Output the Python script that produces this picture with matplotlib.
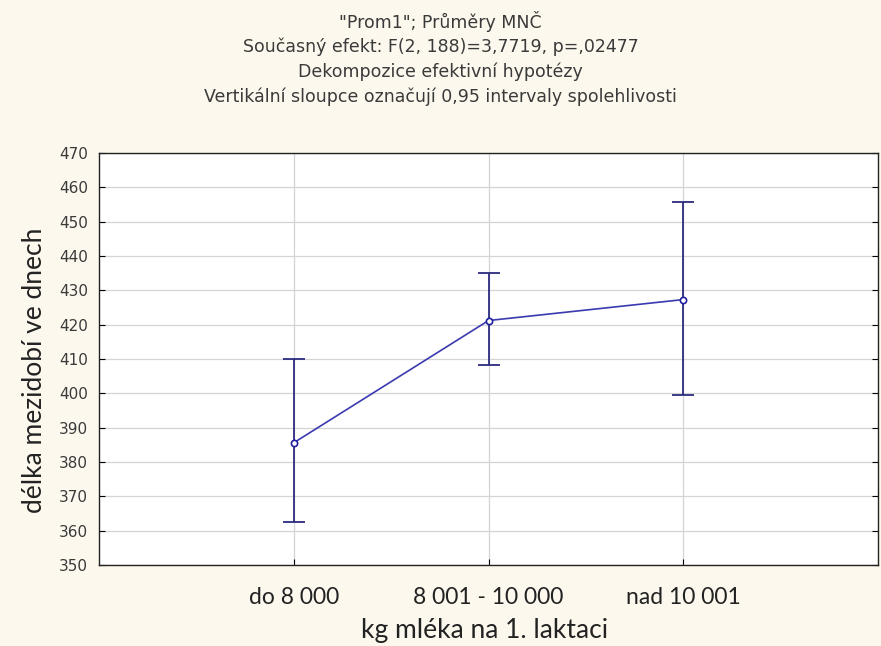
import matplotlib
matplotlib.use("Agg")
import matplotlib.pyplot as plt
import numpy as np

# data
categories = ["do 8 000", "8 001 - 10 000", "nad 10 001"]
means = [385.6, 421.2, 427.3]
ci_low = [362.4, 408.3, 399.6]
ci_high = [410.0, 435.0, 455.8]

title_lines = ['"Prom1"; Průměry MNČ',
               "Současný efekt: F(2, 188)=3,7719, p=,02477",
               "Dekompozice efektivní hypotézy",
               "Vertikální sloupce označují 0,95 intervaly spolehlivosti"]
y_ticks = list(range(350, 471, 10))

bg = "#fcf8ee"
fig = plt.figure(figsize=(8.81, 6.46), dpi=100, facecolor=bg)
ax = fig.add_axes([0.1124, 0.1254, 0.8842, 0.6378])
ax.set_facecolor("white")

x = np.arange(1, len(categories) + 1)
m = np.array(means)
yerr = [m - np.array(ci_low), np.array(ci_high) - m]

ax.errorbar(x, m, yerr=yerr, fmt="none", ecolor="#2b2b7f", elinewidth=1.3,
            capsize=8, capthick=1.3, zorder=3)
ax.plot(x, m, color="#3a3ab0", lw=1.2, marker="o", ms=4.5,
        mfc="white", mec="#1f1fa0", mew=1.2, zorder=4)

ax.set_xlim(0, 4)
ax.set_ylim(350, 470)
ax.set_yticks(y_ticks)
ax.set_xticks(x)
ax.set_xticklabels(categories, family="Lato", fontsize=16.5, color="#222222")
ax.tick_params(axis="y", direction="in", right=True, length=4, labelsize=11,
               labelcolor="#3a3a3a", pad=8)
ax.tick_params(axis="x", direction="in", length=4, pad=16)
for lab in ax.get_yticklabels():
    lab.set_family("DejaVu Sans")

ax.grid(True, color="#d4d4d4", lw=0.9)
ax.set_axisbelow(True)
for s in ax.spines.values():
    s.set_color("#222222")
    s.set_linewidth(1.0)

ax.set_ylabel("délka mezidobí ve dnech", family="Lato", fontsize=19,
              color="#222222", va="center")
ax.yaxis.set_label_coords(-0.083, 0.473)
ax.set_xlabel("kg mléka na 1. laktaci", family="Lato", fontsize=19,
              color="#222222", va="center")
ax.xaxis.set_label_coords(0.495, -0.16)

for i, t in enumerate(title_lines):
    fig.text(0.5, 1 - (22 + 25 * i) / 646, t, ha="center", va="center",
             fontsize=12.5, color="#3a3a3a", family="DejaVu Sans")

fig.savefig("out.png", dpi=100, facecolor=bg)
